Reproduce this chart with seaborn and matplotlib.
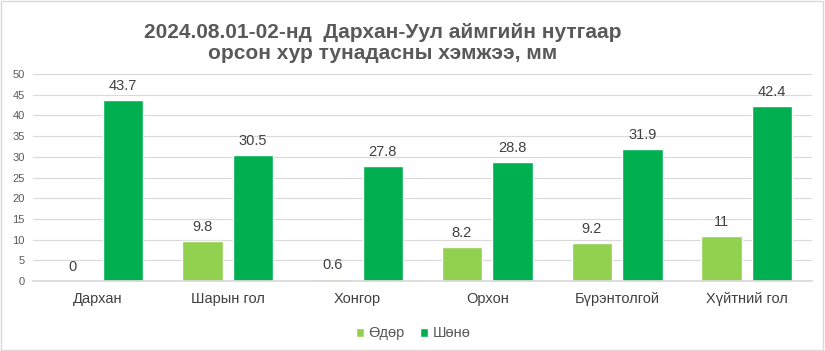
import pandas as pd
import matplotlib
matplotlib.use('Agg')
import matplotlib.pyplot as plt
import seaborn as sns

# Data
places = ['Дархан', 'Шарын гол', 'Хонгор', 'Орхон', 'Бүрэнтолгой', 'Хүйтний гол']
day = [0, 9.8, 0.6, 8.2, 9.2, 11]
night = [43.7, 30.5, 27.8, 28.8, 31.9, 42.4]
day_labels = ['0', '9.8', '0.6', '8.2', '9.2', '11']
night_labels = ['43.7', '30.5', '27.8', '28.8', '31.9', '42.4']
series = ['Өдөр', 'Шөнө']
colors = ['#92D050', '#00B050']

df = pd.DataFrame({
    'place': places * 2,
    'value': day + night,
    'series': [series[0]] * len(places) + [series[1]] * len(places),
})

sns.set_theme(style='white')
plt.rcParams['font.family'] = ['Liberation Sans', 'DejaVu Sans']

fig = plt.figure(figsize=(8.25, 3.51), dpi=100)
ax = fig.add_axes([0.04, 0.199, 0.944, 0.59])

sns.barplot(data=df, x='place', y='value', hue='series', palette=colors,
            width=0.78, gap=0.2, ax=ax, legend=True, saturation=1)

for cont, labels in zip(ax.containers, [day_labels, night_labels]):
    ax.bar_label(cont, labels=labels, padding=5, fontsize=10.5, color='#404040')

ax.set_ylim(0, 50)
ax.set_yticks(range(0, 51, 5))
ax.yaxis.grid(True, color='#D9D9D9', linewidth=0.8)
ax.set_axisbelow(True)
for s in ax.spines.values():
    s.set_visible(False)
ax.spines['bottom'].set_visible(True)
ax.spines['bottom'].set_color('#D9D9D9')
ax.tick_params(axis='y', labelsize=8, colors='#595959', length=0, pad=6)
ax.tick_params(axis='x', labelsize=10.5, colors='#404040', length=0, pad=8)
ax.set_xlabel('')
ax.set_ylabel('')

fig.text(0.464, 0.935, '2024.08.01-02-нд  Дархан-Уул аймгийн нутгаар\nорсон хур тунадасны хэмжээ, мм',
         ha='center', va='top', fontsize=15, fontweight='bold', color='#595959',
         linespacing=1.15)

leg = ax.legend(loc='upper center', bbox_to_anchor=(0.488, -0.155), ncol=2, frameon=False,
                fontsize=10.5, handlelength=0.6, handleheight=0.6, handletextpad=0.3,
                columnspacing=1.0)
for t in leg.get_texts():
    t.set_color('#595959')

fig.patches.append(plt.Rectangle((0.001, 0.002), 0.997, 0.995, transform=fig.transFigure,
                                 fill=False, edgecolor='#D9D9D9', linewidth=1))

fig.savefig('out.png', dpi=100)
